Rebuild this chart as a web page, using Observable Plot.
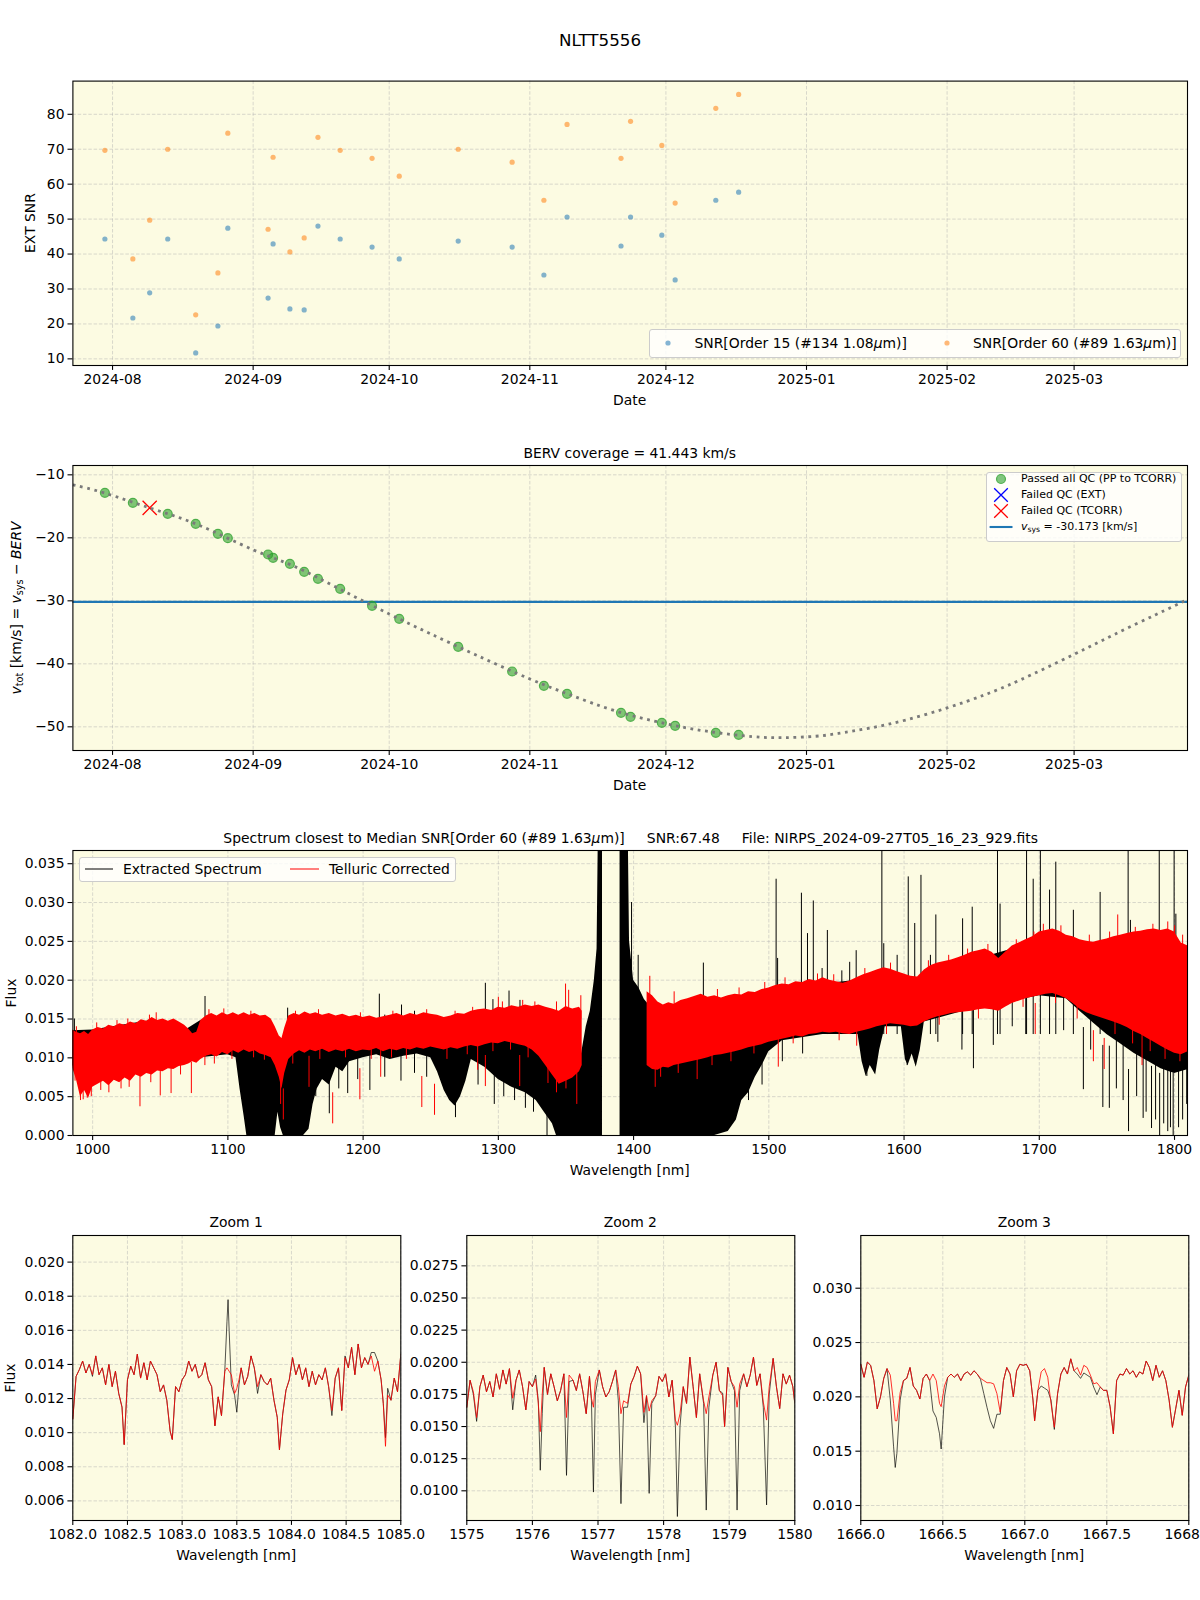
<!DOCTYPE html>
<html><head><meta charset="utf-8">
<script src="https://cdn.jsdelivr.net/npm/d3@7"></script>
<script src="https://cdn.jsdelivr.net/npm/@observablehq/plot@0.6"></script>
<style>
body{margin:0;background:#fff;font-family:"DejaVu Sans",sans-serif;}
#fig{position:relative;width:1200px;height:1600px;overflow:hidden;background:#fff;}
.txt{position:absolute;white-space:pre;color:#000;line-height:1.15;font-family:"DejaVu Sans",sans-serif;}
.leg{position:absolute;background:rgba(255,255,255,0.8);border:1px solid #cccccc;border-radius:3px;box-sizing:border-box;}
sub{font-size:70%;vertical-align:-0.25em;line-height:0;}
</style></head><body><div id="fig"></div><script>
// ---------------- DATA ----------------
const obsDates = ["2024-07-30T07:30Z","2024-08-05T11:30Z","2024-08-09T04:30Z","2024-08-13T04:00Z","2024-08-19T08:00Z","2024-08-24T05:30Z","2024-08-26T10:00Z","2024-09-04T07:00Z","2024-09-05T09:30Z","2024-09-09T02:30Z","2024-09-12T06:00Z","2024-09-15T07:00Z","2024-09-20T04:30Z","2024-09-27T05:16Z","2024-10-03T05:00Z","2024-10-16T05:00Z","2024-10-28T02:30Z","2024-11-04T02:30Z","2024-11-09T05:00Z","2024-11-21T02:30Z","2024-11-23T05:00Z","2024-11-30T02:30Z","2024-12-03T01:00Z","2024-12-12T00:00Z","2024-12-17T01:00Z"];
const snrOrder15 = [44.3,21.7,28.9,44.3,11.7,19.4,47.4,27.4,42.9,24.3,24.0,48.0,44.3,42.0,38.6,43.7,42.0,34.0,50.6,42.3,50.6,45.4,32.6,55.4,57.7];
const snrOrder60 = [69.7,38.6,49.7,70.0,22.6,34.6,74.6,47.1,67.7,40.6,44.6,73.4,69.7,67.4,62.3,70.0,66.3,55.4,77.1,67.4,78.0,71.1,54.6,81.7,85.7];
const vTot = [-12.86,-14.44,-15.24,-16.19,-17.78,-19.37,-20.05,-22.65,-23.17,-24.13,-25.40,-26.51,-28.10,-30.79,-32.86,-37.30,-41.22,-43.49,-44.76,-47.78,-48.41,-49.37,-49.84,-50.95,-51.27];
const qcStatus = ["pass","pass","tcorr","pass","pass","pass","pass","pass","pass","pass","pass","pass","pass","pass","pass","pass","pass","pass","pass","pass","pass","pass","pass","pass","pass"];
const bervCurveDates = ["2024-07-23T06:00Z","2024-07-30T07:30Z","2024-08-10T00:00Z","2024-08-20T00:00Z","2024-09-01T00:00Z","2024-09-10T00:00Z","2024-09-20T00:00Z","2024-10-01T00:00Z","2024-10-10T00:00Z","2024-10-20T00:00Z","2024-11-01T00:00Z","2024-11-10T00:00Z","2024-11-20T00:00Z","2024-12-01T00:00Z","2024-12-10T00:00Z","2024-12-20T00:00Z","2024-12-27T00:00Z","2025-01-03T00:00Z","2025-01-08T00:00Z","2025-01-15T00:00Z","2025-01-23T00:00Z","2025-02-01T00:00Z","2025-02-09T00:00Z","2025-02-17T00:00Z","2025-03-01T00:00Z","2025-03-10T00:00Z","2025-03-19T00:00Z","2025-03-26T00:00Z"];
const bervCurveValues = [-11.6,-12.9,-15.45,-17.98,-21.9,-24.5,-28.1,-32.1,-35.2,-38.55,-42.4,-44.95,-47.5,-49.5,-50.7,-51.55,-51.72,-51.5,-51.05,-50.2,-48.9,-47.0,-45.0,-42.6,-38.5,-35.3,-32.2,-29.8];
const vsys = -30.173;
const monthTicks = ["2024-08-01","2024-09-01","2024-10-01","2024-11-01","2024-12-01","2025-01-01","2025-02-01","2025-03-01"];
const dateDomain = ["2024-07-23T06:15Z","2025-03-26T00:00Z"];
const snrTicks = [10,20,30,40,50,60,70,80];
const bervTicks = [-10,-20,-30,-40,-50];

// Spectrum envelopes [wavelength nm, lower flux, upper flux]
const redBand = [[985,0.0088,0.0136],[988,0.0072,0.0133],[991,0.0050,0.0131],[994,0.0058,0.0134],[997,0.0048,0.0130],[1000,0.0062,0.0136],[1004,0.0066,0.0139],[1008,0.0070,0.0137],[1012,0.0064,0.0142],[1016,0.0071,0.0140],[1020,0.0068,0.0144],[1024,0.0074,0.0142],[1028,0.0070,0.0146],[1032,0.0078,0.0144],[1036,0.0075,0.0149],[1040,0.0080,0.0147],[1044,0.0078,0.0152],[1048,0.0083,0.0148],[1052,0.0082,0.0150],[1056,0.0086,0.0147],[1060,0.0085,0.0150],[1064,0.0089,0.0146],[1068,0.0090,0.0142],[1071,0.0092,0.0137],[1074,0.0095,0.0131],[1077,0.0093,0.0133],[1080,0.0098,0.0148],[1084,0.0102,0.0154],[1088,0.0104,0.0157],[1092,0.0101,0.0154],[1096,0.0107,0.0158],[1100,0.0104,0.0155],[1104,0.0109,0.0158],[1108,0.0106,0.0155],[1112,0.0110,0.0158],[1116,0.0107,0.0155],[1120,0.0109,0.0157],[1124,0.0105,0.0154],[1128,0.0103,0.0155],[1132,0.0100,0.0150],[1135,0.0090,0.0140],[1138,0.0075,0.0128],[1140,0.0060,0.0125],[1142,0.0080,0.0138],[1145,0.0098,0.0154],[1149,0.0105,0.0157],[1153,0.0109,0.0155],[1157,0.0106,0.0159],[1161,0.0110,0.0156],[1165,0.0108,0.0158],[1170,0.0111,0.0155],[1175,0.0107,0.0157],[1180,0.0110,0.0154],[1185,0.0108,0.0156],[1190,0.0111,0.0153],[1195,0.0108,0.0155],[1200,0.0110,0.0152],[1205,0.0109,0.0154],[1210,0.0112,0.0151],[1215,0.0108,0.0153],[1220,0.0111,0.0155],[1225,0.0109,0.0157],[1230,0.0112,0.0154],[1235,0.0110,0.0157],[1240,0.0113,0.0155],[1245,0.0111,0.0158],[1250,0.0114,0.0156],[1255,0.0112,0.0155],[1260,0.0110,0.0152],[1265,0.0113,0.0154],[1270,0.0111,0.0157],[1275,0.0114,0.0156],[1280,0.0116,0.0160],[1285,0.0114,0.0162],[1290,0.0117,0.0163],[1295,0.0119,0.0161],[1300,0.0118,0.0165],[1305,0.0121,0.0164],[1310,0.0119,0.0167],[1315,0.0117,0.0165],[1320,0.0115,0.0168],[1325,0.0110,0.0166],[1330,0.0102,0.0168],[1335,0.0090,0.0165],[1340,0.0078,0.0163],[1345,0.0066,0.0160],[1350,0.0070,0.0166],[1355,0.0074,0.0163],[1360,0.0082,0.0165],[1362,0.0090,0.0160],[1385,NaN,NaN],[1410,0.0090,0.0185],[1414,0.0085,0.0180],[1418,0.0084,0.0172],[1422,0.0088,0.0168],[1426,0.0087,0.0171],[1430,0.0090,0.0169],[1435,0.0092,0.0174],[1440,0.0094,0.0176],[1445,0.0096,0.0179],[1450,0.0098,0.0182],[1455,0.0100,0.0178],[1460,0.0103,0.0180],[1465,0.0104,0.0177],[1470,0.0106,0.0180],[1475,0.0108,0.0182],[1480,0.0110,0.0181],[1485,0.0113,0.0185],[1490,0.0115,0.0184],[1495,0.0117,0.0188],[1500,0.0120,0.0190],[1505,0.0122,0.0193],[1510,0.0124,0.0195],[1515,0.0126,0.0194],[1520,0.0128,0.0198],[1525,0.0127,0.0197],[1530,0.0130,0.0201],[1535,0.0131,0.0199],[1540,0.0133,0.0203],[1545,0.0132,0.0200],[1550,0.0133,0.0198],[1555,0.0131,0.0196],[1560,0.0130,0.0199],[1565,0.0133,0.0203],[1570,0.0135,0.0207],[1575,0.0137,0.0210],[1580,0.0140,0.0213],[1585,0.0142,0.0216],[1590,0.0144,0.0214],[1595,0.0143,0.0211],[1600,0.0142,0.0208],[1605,0.0140,0.0205],[1610,0.0141,0.0204],[1615,0.0146,0.0213],[1620,0.0150,0.0219],[1625,0.0153,0.0222],[1630,0.0155,0.0224],[1635,0.0157,0.0226],[1640,0.0158,0.0229],[1645,0.0159,0.0232],[1650,0.0160,0.0236],[1655,0.0162,0.0238],[1660,0.0163,0.0240],[1665,0.0162,0.0236],[1670,0.0160,0.0228],[1675,0.0165,0.0236],[1680,0.0170,0.0244],[1685,0.0173,0.0248],[1690,0.0176,0.0252],[1695,0.0178,0.0256],[1700,0.0180,0.0262],[1705,0.0182,0.0264],[1710,0.0183,0.0266],[1715,0.0180,0.0263],[1720,0.0176,0.0258],[1725,0.0170,0.0256],[1730,0.0163,0.0252],[1735,0.0158,0.0250],[1740,0.0155,0.0249],[1745,0.0152,0.0251],[1750,0.0149,0.0253],[1755,0.0146,0.0256],[1760,0.0143,0.0258],[1765,0.0139,0.0260],[1770,0.0134,0.0262],[1775,0.0130,0.0263],[1780,0.0125,0.0265],[1785,0.0120,0.0266],[1790,0.0115,0.0264],[1795,0.0110,0.0266],[1800,0.0106,0.0262],[1805,0.0104,0.0248],[1810,0.0108,0.0244]];
const blackBand = [[985,0.0090,0.0135],[1000,0.0075,0.0136],[1040,0.0085,0.0147],[1070,0.0095,0.0137],[1080,0.0100,0.0148],[1100,0.0104,0.0155],[1106,0.0100,0.0155],[1109,0.0060,0.0150],[1112,0.0025,0.0140],[1114,0.0000,0.0125],[1120,0.0000,0.0120],[1125,0.0000,0.0118],[1130,0.0000,0.0120],[1135,0.0000,0.0115],[1137,0.0030,0.0110],[1139,0.0010,0.0112],[1141,0.0000,0.0120],[1150,0.0000,0.0122],[1156,0.0000,0.0120],[1160,0.0008,0.0125],[1163,0.0040,0.0130],[1166,0.0060,0.0135],[1170,0.0072,0.0140],[1175,0.0065,0.0145],[1180,0.0088,0.0150],[1185,0.0082,0.0150],[1190,0.0095,0.0150],[1200,0.0100,0.0150],[1210,0.0104,0.0150],[1220,0.0098,0.0150],[1230,0.0102,0.0150],[1240,0.0105,0.0150],[1250,0.0100,0.0150],[1255,0.0082,0.0150],[1260,0.0058,0.0150],[1264,0.0045,0.0150],[1268,0.0038,0.0150],[1272,0.0050,0.0150],[1276,0.0070,0.0150],[1280,0.0098,0.0155],[1290,0.0088,0.0160],[1300,0.0072,0.0160],[1310,0.0062,0.0162],[1320,0.0055,0.0162],[1328,0.0045,0.0160],[1334,0.0030,0.0158],[1340,0.0015,0.0150],[1343,0.0000,0.0140],[1350,0.0000,0.0100],[1355,0.0000,0.0085],[1360,0.0000,0.0090],[1365,0.0000,0.0140],[1368,0.0000,0.0160],[1371,0.0000,0.0200],[1373,0.0000,0.0240],[1374,0.0000,0.0400],[1377,0.0000,0.0400],[1383,NaN,NaN],[1390,0.0000,0.0400],[1396,0.0000,0.0400],[1397,0.0000,0.0250],[1400,0.0000,0.0200],[1404,0.0000,0.0190],[1408,0.0000,0.0175],[1420,0.0000,0.0150],[1440,0.0000,0.0150],[1460,0.0000,0.0160],[1470,0.0005,0.0165],[1476,0.0020,0.0170],[1480,0.0045,0.0170],[1485,0.0055,0.0175],[1490,0.0075,0.0180],[1495,0.0090,0.0185],[1500,0.0108,0.0185],[1510,0.0122,0.0190],[1540,0.0130,0.0195],[1566,0.0130,0.0200],[1569,0.0095,0.0200],[1572,0.0076,0.0200],[1575,0.0090,0.0200],[1579,0.0078,0.0200],[1582,0.0110,0.0205],[1586,0.0140,0.0210],[1598,0.0140,0.0205],[1601,0.0098,0.0200],[1603,0.0090,0.0200],[1606,0.0105,0.0200],[1609,0.0088,0.0200],[1612,0.0110,0.0200],[1615,0.0146,0.0205],[1640,0.0158,0.0220],[1700,0.0180,0.0250],[1720,0.0176,0.0250],[1730,0.0160,0.0245],[1740,0.0145,0.0245],[1750,0.0130,0.0250],[1760,0.0118,0.0250],[1770,0.0106,0.0255],[1780,0.0096,0.0255],[1790,0.0086,0.0255],[1800,0.0080,0.0250],[1810,0.0085,0.0240]];
// isolated features [wavelength, flux]
const blackSpikes = [[986.5,0.0150],[1083.1,0.0179],[1144.2,0.0164],[1212,0.0182],[1228.4,0.0168],[1290.4,0.0196],[1296,0.0175],[1307.9,0.0186],[1316,0.0174],[1398.5,0.030],[1403.4,0.0232],[1451.6,0.0222],[1505.4,0.033],[1506.5,0.0228],[1524.1,0.0312],[1528.6,0.026],[1532.9,0.0302],[1539.4,0.0215],[1543.3,0.0264],[1554,0.0212],[1559.8,0.0223],[1564.6,0.0238],[1583.6,0.04],[1585,0.0247],[1594.9,0.0232],[1603.1,0.0333],[1607.9,0.0273],[1612.5,0.0335],[1619.5,0.0232],[1623.5,0.0284],[1643.3,0.0279],[1650.4,0.0294],[1669.1,0.04],[1671,0.0298],[1690.6,0.04],[1695.5,0.033],[1700.8,0.04],[1707.6,0.0316],[1712.2,0.0352],[1725.2,0.029],[1745,0.0313],[1765.7,0.04],[1767.4,0.0277],[1788.7,0.04],[1799.7,0.04],[1801,0.0285]];
const blackDips = [[1165,0.0050],[1175,0.0028],[1182,0.006],[1188.6,0.0054],[1196,0.0072],[1205,0.0058],[1216,0.0075],[1228,0.007],[1238,0.0080],[1247,0.0075],[1268.3,0.0023],[1285,0.0065],[1297,0.004],[1304,0.0050],[1312,0.0045],[1320,0.0035],[1326,0.0030],[1336,0.0],[1485,0.0045],[1495,0.0065],[1510,0.0095],[1525,0.0105],[1572.5,0.0076],[1602.3,0.009],[1625,0.0120],[1642.8,0.011],[1651.3,0.0086],[1666,0.0116],[1680,0.0140],[1690,0.0130],[1718,0.0135],[1732.6,0.0059],[1738,0.0110],[1747,0.0036],[1751.8,0.0035],[1757,0.006],[1762,0.0045],[1766,0.0005],[1772,0.0050],[1776.8,0.0022],[1779,0.0030],[1783,0.0009],[1786,0.0020],[1789,0.0],[1792,0.0015],[1795,0.0005],[1797,0.001],[1799,0.0],[1803,0.001],[1806,0.002],[1809,0.0040]];
const redDips = [[987,0.0070],[991,0.0045],[993,0.0046],[996,0.0048],[999,0.0050],[1006,0.0058],[1012,0.0055],[1021,0.0060],[1027,0.0062],[1035,0.0037],[1043,0.0068],[1050,0.0051],[1058,0.0054],[1065,0.0078],[1073,0.0054],[1083,0.0090],[1090,0.0092],[1103,0.0098],[1119,0.0100],[1127,0.0097],[1139,0.0040],[1141,0.002],[1148,0.0092],[1160,0.0062],[1168,0.0098],[1177.5,0.0015],[1187,0.0100],[1197.6,0.0046],[1206,0.0098],[1213,0.0075],[1221,0.0100],[1232,0.0098],[1243.4,0.0036],[1252.8,0.0026],[1262,0.0098],[1277,0.0104],[1284.7,0.0084],[1290.4,0.0063],[1296,0.0108],[1309,0.0110],[1315.8,0.0063],[1322,0.0100],[1336.7,0.0067],[1343,0.0055],[1350,0.006],[1358,0.004],[1416,0.0062],[1420,0.0075],[1433,0.0080],[1447,0.0072],[1458,0.0090],[1472,0.0095],[1489,0.0105],[1507,0.0088],[1518,0.0118],[1552,0.0122],[1565,0.0115],[1587,0.0130],[1626,0.0142],[1655,0.0150],[1688,0.0165],[1697,0.013],[1712,0.0170],[1728,0.0150],[1740,0.0095],[1748,0.0085],[1756,0.0130],[1769,0.0118],[1776,0.009],[1782,0.0108],[1793,0.0098],[1804,0.0095]];
const redSpikes = [[988,0.0140],[1003,0.0145],[1018,0.0148],[1026,0.0150],[1042,0.0155],[1047,0.0158],[1086,0.0162],[1097,0.0163],[1117,0.0160],[1150,0.0160],[1167,0.0162],[1198,0.0158],[1222,0.0160],[1247,0.0162],[1268,0.0160],[1281,0.0165],[1300,0.0178],[1303,0.0172],[1318,0.0174],[1327,0.0172],[1343,0.0172],[1349.7,0.0195],[1352,0.0187],[1361,0.0180],[1412,0.0205],[1430,0.0185],[1462,0.0188],[1478,0.0190],[1497,0.0197],[1512,0.0203],[1536,0.0208],[1548,0.0207],[1571,0.0215],[1590,0.0222],[1618,0.0225],[1633,0.0232],[1647,0.0240],[1662,0.0246],[1683,0.0252],[1696,0.0262],[1703,0.0272],[1716,0.0270],[1737,0.0258],[1752,0.0262],[1758,0.0284],[1771,0.0268],[1784,0.0272],[1795,0.0275],[1800,0.027],[1806,0.0258]];
const specTicks = [1000,1100,1200,1300,1400,1500,1600,1700,1800];
const fluxTicks = [0,0.005,0.010,0.015,0.020,0.025,0.030,0.035];

// Zoom windows: [wavelength, extracted flux, telluric-corrected flux]
const zoom1 = [[1082.00,0.0108,0.0108],[1082.03,0.0133,0.0133],[1082.06,0.0137,0.0137],[1082.09,0.0142,0.0142],[1082.12,0.0135,0.0135],[1082.15,0.0140,0.0140],[1082.18,0.0133,0.0134],[1082.21,0.0145,0.0145],[1082.24,0.0134,0.0134],[1082.27,0.0138,0.0138],[1082.30,0.0128,0.0128],[1082.33,0.0140,0.0140],[1082.36,0.0127,0.0127],[1082.39,0.0136,0.0136],[1082.42,0.0123,0.0123],[1082.45,0.0115,0.0115],[1082.47,0.0093,0.0093],[1082.50,0.0131,0.0131],[1082.53,0.0139,0.0139],[1082.56,0.0134,0.0134],[1082.59,0.0146,0.0146],[1082.62,0.0132,0.0132],[1082.65,0.0141,0.0141],[1082.68,0.0131,0.0131],[1082.71,0.0142,0.0142],[1082.74,0.0138,0.0138],[1082.77,0.0134,0.0134],[1082.80,0.0124,0.0124],[1082.83,0.0128,0.0128],[1082.86,0.0119,0.0119],[1082.89,0.0101,0.0101],[1082.91,0.0096,0.0096],[1082.94,0.0127,0.0127],[1082.97,0.0124,0.0124],[1083.00,0.0131,0.0131],[1083.03,0.0134,0.0134],[1083.06,0.0142,0.0142],[1083.09,0.0136,0.0136],[1083.12,0.0140,0.0140],[1083.15,0.0132,0.0132],[1083.18,0.0134,0.0134],[1083.21,0.0141,0.0141],[1083.24,0.0131,0.0131],[1083.27,0.0127,0.0127],[1083.30,0.0104,0.0104],[1083.33,0.0121,0.0121],[1083.36,0.0110,0.0110],[1083.39,0.0136,0.0136],[1083.41,0.0165,0.0138],[1083.42,0.0178,0.0137],[1083.43,0.0160,0.0136],[1083.45,0.0128,0.0134],[1083.48,0.0122,0.0123],[1083.50,0.0112,0.0126],[1083.52,0.0128,0.0131],[1083.54,0.0138,0.0138],[1083.57,0.0128,0.0128],[1083.60,0.0133,0.0133],[1083.63,0.0145,0.0145],[1083.66,0.0138,0.0138],[1083.69,0.0123,0.0127],[1083.72,0.0134,0.0134],[1083.75,0.0130,0.0130],[1083.78,0.0128,0.0128],[1083.81,0.0132,0.0132],[1083.84,0.0119,0.0119],[1083.87,0.0109,0.0109],[1083.89,0.0090,0.0090],[1083.92,0.0111,0.0111],[1083.95,0.0125,0.0125],[1083.98,0.0131,0.0131],[1084.01,0.0144,0.0144],[1084.04,0.0134,0.0134],[1084.07,0.0140,0.0140],[1084.10,0.0131,0.0131],[1084.13,0.0138,0.0138],[1084.16,0.0127,0.0127],[1084.19,0.0136,0.0136],[1084.22,0.0128,0.0128],[1084.25,0.0134,0.0134],[1084.28,0.0131,0.0131],[1084.31,0.0138,0.0138],[1084.34,0.0127,0.0127],[1084.37,0.0110,0.0113],[1084.40,0.0132,0.0132],[1084.43,0.0138,0.0138],[1084.46,0.0113,0.0113],[1084.49,0.0145,0.0144],[1084.52,0.0138,0.0138],[1084.55,0.0150,0.0150],[1084.58,0.0134,0.0134],[1084.61,0.0152,0.0152],[1084.64,0.0138,0.0138],[1084.67,0.0144,0.0144],[1084.70,0.0140,0.0140],[1084.73,0.0147,0.0145],[1084.76,0.0147,0.0136],[1084.79,0.0142,0.0142],[1084.82,0.0131,0.0131],[1084.84,0.0117,0.0117],[1084.86,0.0097,0.0092],[1084.88,0.0126,0.0122],[1084.91,0.0119,0.0119],[1084.94,0.0132,0.0132],[1084.97,0.0124,0.0124],[1085.00,0.0146,0.0146]];
const zoom2 = [[1575.00,0.0165,0.0165],[1575.05,0.0186,0.0186],[1575.10,0.0175,0.0177],[1575.15,0.0154,0.0157],[1575.20,0.0181,0.0181],[1575.25,0.0190,0.0190],[1575.30,0.0177,0.0177],[1575.35,0.0185,0.0185],[1575.40,0.0173,0.0173],[1575.45,0.0191,0.0191],[1575.50,0.0179,0.0179],[1575.55,0.0194,0.0194],[1575.60,0.0183,0.0183],[1575.65,0.0195,0.0195],[1575.70,0.0163,0.0172],[1575.75,0.0186,0.0186],[1575.80,0.0194,0.0194],[1575.85,0.0181,0.0181],[1575.90,0.0163,0.0163],[1575.95,0.0185,0.0185],[1576.00,0.0181,0.0181],[1576.05,0.0190,0.0187],[1576.09,0.0170,0.0168],[1576.12,0.0116,0.0146],[1576.15,0.0160,0.0175],[1576.18,0.0196,0.0196],[1576.23,0.0175,0.0175],[1576.28,0.0191,0.0191],[1576.33,0.0181,0.0181],[1576.38,0.0170,0.0170],[1576.43,0.0178,0.0178],[1576.48,0.0191,0.0191],[1576.52,0.0112,0.0157],[1576.56,0.0185,0.0190],[1576.62,0.0186,0.0186],[1576.67,0.0178,0.0178],[1576.72,0.0191,0.0191],[1576.77,0.0177,0.0177],[1576.82,0.0160,0.0160],[1576.87,0.0189,0.0189],[1576.90,0.0170,0.0172],[1576.93,0.0099,0.0165],[1576.96,0.0175,0.0185],[1577.02,0.0194,0.0194],[1577.07,0.0181,0.0181],[1577.12,0.0173,0.0173],[1577.17,0.0177,0.0177],[1577.22,0.0185,0.0185],[1577.27,0.0194,0.0194],[1577.31,0.0170,0.0181],[1577.35,0.0090,0.0160],[1577.39,0.0165,0.0170],[1577.45,0.0165,0.0168],[1577.50,0.0183,0.0183],[1577.55,0.0189,0.0189],[1577.60,0.0197,0.0197],[1577.65,0.0191,0.0191],[1577.70,0.0153,0.0161],[1577.74,0.0174,0.0174],[1577.78,0.0098,0.0162],[1577.82,0.0168,0.0170],[1577.88,0.0174,0.0174],[1577.93,0.0189,0.0189],[1577.98,0.0185,0.0185],[1578.03,0.0191,0.0191],[1578.08,0.0173,0.0173],[1578.13,0.0186,0.0186],[1578.18,0.0150,0.0155],[1578.21,0.0080,0.0151],[1578.25,0.0150,0.0160],[1578.30,0.0181,0.0181],[1578.35,0.0168,0.0168],[1578.40,0.0204,0.0204],[1578.45,0.0181,0.0181],[1578.50,0.0157,0.0157],[1578.55,0.0191,0.0191],[1578.61,0.0168,0.0170],[1578.65,0.0085,0.0160],[1578.69,0.0165,0.0173],[1578.75,0.0190,0.0190],[1578.80,0.0200,0.0200],[1578.85,0.0178,0.0178],[1578.90,0.0176,0.0174],[1578.93,0.0150,0.0150],[1578.98,0.0196,0.0196],[1579.03,0.0185,0.0185],[1579.08,0.0178,0.0181],[1579.12,0.0085,0.0165],[1579.16,0.0178,0.0183],[1579.22,0.0191,0.0191],[1579.27,0.0181,0.0181],[1579.32,0.0190,0.0190],[1579.37,0.0204,0.0204],[1579.42,0.0182,0.0182],[1579.47,0.0191,0.0191],[1579.52,0.0165,0.0169],[1579.57,0.0089,0.0155],[1579.61,0.0175,0.0181],[1579.67,0.0203,0.0203],[1579.72,0.0181,0.0181],[1579.77,0.0164,0.0164],[1579.82,0.0191,0.0191],[1579.87,0.0183,0.0183],[1579.92,0.0190,0.0190],[1579.97,0.0181,0.0181],[1580.00,0.0168,0.0168]];
const zoom3 = [[1666.00,0.0230,0.0230],[1666.02,0.0218,0.0218],[1666.04,0.0232,0.0232],[1666.06,0.0229,0.0229],[1666.08,0.0215,0.0215],[1666.10,0.0189,0.0189],[1666.12,0.0200,0.0200],[1666.14,0.0217,0.0217],[1666.16,0.0226,0.0226],[1666.18,0.0197,0.0220],[1666.20,0.0154,0.0194],[1666.21,0.0135,0.0178],[1666.22,0.0148,0.0178],[1666.24,0.0197,0.0204],[1666.26,0.0215,0.0215],[1666.28,0.0217,0.0217],[1666.30,0.0227,0.0227],[1666.32,0.0210,0.0210],[1666.34,0.0206,0.0206],[1666.36,0.0198,0.0198],[1666.38,0.0217,0.0217],[1666.40,0.0221,0.0221],[1666.42,0.0215,0.0215],[1666.44,0.0187,0.0221],[1666.46,0.0181,0.0215],[1666.48,0.0166,0.0194],[1666.49,0.0152,0.0191],[1666.51,0.0200,0.0210],[1666.53,0.0218,0.0218],[1666.55,0.0221,0.0221],[1666.57,0.0218,0.0218],[1666.59,0.0221,0.0221],[1666.61,0.0215,0.0215],[1666.63,0.0221,0.0221],[1666.65,0.0223,0.0223],[1666.67,0.0220,0.0220],[1666.69,0.0224,0.0224],[1666.71,0.0221,0.0221],[1666.73,0.0216,0.0217],[1666.75,0.0203,0.0215],[1666.77,0.0190,0.0213],[1666.79,0.0178,0.0213],[1666.81,0.0171,0.0212],[1666.83,0.0184,0.0203],[1666.85,0.0184,0.0186],[1666.87,0.0215,0.0215],[1666.89,0.0227,0.0227],[1666.91,0.0221,0.0221],[1666.93,0.0200,0.0200],[1666.95,0.0224,0.0224],[1666.97,0.0230,0.0230],[1666.99,0.0229,0.0229],[1667.01,0.0230,0.0230],[1667.03,0.0224,0.0224],[1667.05,0.0197,0.0197],[1667.06,0.0178,0.0178],[1667.08,0.0206,0.0206],[1667.10,0.0210,0.0223],[1667.12,0.0208,0.0226],[1667.14,0.0206,0.0218],[1667.16,0.0197,0.0194],[1667.18,0.0170,0.0172],[1667.20,0.0203,0.0203],[1667.22,0.0221,0.0221],[1667.24,0.0227,0.0227],[1667.26,0.0221,0.0221],[1667.28,0.0235,0.0235],[1667.30,0.0224,0.0224],[1667.32,0.0221,0.0227],[1667.34,0.0217,0.0220],[1667.36,0.0222,0.0229],[1667.38,0.0220,0.0227],[1667.40,0.0218,0.0220],[1667.42,0.0209,0.0212],[1667.44,0.0202,0.0213],[1667.46,0.0209,0.0209],[1667.48,0.0206,0.0206],[1667.50,0.0206,0.0206],[1667.52,0.0191,0.0191],[1667.54,0.0166,0.0166],[1667.56,0.0215,0.0215],[1667.58,0.0221,0.0221],[1667.60,0.0220,0.0220],[1667.62,0.0226,0.0226],[1667.64,0.0221,0.0221],[1667.66,0.0224,0.0224],[1667.68,0.0218,0.0218],[1667.70,0.0223,0.0223],[1667.72,0.0221,0.0221],[1667.74,0.0233,0.0233],[1667.76,0.0227,0.0227],[1667.78,0.0215,0.0215],[1667.80,0.0229,0.0229],[1667.82,0.0218,0.0218],[1667.84,0.0224,0.0224],[1667.86,0.0215,0.0215],[1667.88,0.0197,0.0197],[1667.90,0.0172,0.0172],[1667.92,0.0189,0.0189],[1667.94,0.0206,0.0206],[1667.96,0.0183,0.0183],[1667.98,0.0209,0.0209],[1668.00,0.0220,0.0220]];
const zoom1Ticks = [1082,1082.5,1083,1083.5,1084,1084.5,1085];
const zoom1YTicks = [0.006,0.008,0.010,0.012,0.014,0.016,0.018,0.020];
const zoom2Ticks = [1575,1576,1577,1578,1579,1580];
const zoom2YTicks = [0.0100,0.0125,0.0150,0.0175,0.0200,0.0225,0.0250,0.0275];
const zoom3Ticks = [1666,1666.5,1667,1667.5,1668];
const zoom3YTicks = [0.010,0.015,0.020,0.025,0.030];

// ---------------- RENDER ----------------
const fig = document.getElementById("fig");
const BG = "#fcfbe2";
const FS = 13.9;
const toDate = s => new Date(s.length === 10 ? s + "T00:00:00Z" : s);
const obs = obsDates.map((d, i) => ({date: toDate(d), s15: snrOrder15[i], s60: snrOrder60[i], v: vTot[i], qc: qcStatus[i]}));
const curve = bervCurveDates.map((d, i) => ({date: toDate(d), v: bervCurveValues[i]}));
const mTicks = monthTicks.map(toDate);
const dDomain = dateDomain.map(toDate);
const gridStyle = {stroke: "#b0b0b0", strokeOpacity: 0.6, strokeWidth: 0.8, strokeDasharray: "3.5,1.8"};

function place(el, left, top) {
  const d = document.createElement("div");
  d.style.position = "absolute"; d.style.left = left + "px"; d.style.top = top + "px";
  el.style.overflow = "visible";
  d.appendChild(el); fig.appendChild(d);
}
function addText(html, x, y, {size = FS, rot = 0, align = "center"} = {}) {
  const d = document.createElement("div");
  d.className = "txt"; d.innerHTML = html;
  d.style.fontSize = size + "px"; d.style.left = x + "px"; d.style.top = y + "px";
  const tx = align === "center" ? "-50%" : align === "left" ? "0" : "-100%";
  d.style.transform = `translate(${tx},-50%)` + (rot ? ` rotate(${rot}deg)` : "");
  fig.appendChild(d); return d;
}
function axisMarks(xTicks, yTicks) {
  return [
    Plot.gridX({ticks: xTicks, ...gridStyle}),
    Plot.gridY({ticks: yTicks, ...gridStyle}),
  ];
}
function axisLabels(xTicks, xFmt, yTicks, yFmt) {
  return [
    Plot.axisX({ticks: xTicks, tickFormat: xFmt, tickSize: 4.9, tickPadding: 3.5, fontSize: FS, label: null, strokeWidth: 1.1}),
    Plot.axisY({ticks: yTicks, tickFormat: yFmt, tickSize: 4.9, tickPadding: 3.5, fontSize: FS, label: null, strokeWidth: 1.1}),
    Plot.frame({stroke: "black", strokeWidth: 1.1, fill: "none"})
  ];
}
const baseStyle = {fontFamily: '"DejaVu Sans", sans-serif', fontSize: FS + "px", background: "transparent", color: "black", overflow: "visible"};

// Title
addText("NLTT5556", 600, 41, {size: 16.7});

// Panel 1: SNR
const monthFmt = d3.utcFormat("%Y-%m");
const p1 = Plot.plot({
  width: 1200, height: 360, marginLeft: 72.4, marginRight: 13, marginTop: 20.6, marginBottom: 55,
  style: baseStyle,
  x: {type: "utc", domain: dDomain},
  y: {domain: [8.1, 89.5]},
  marks: [
    Plot.frame({fill: BG, stroke: "none"}),
    ...axisMarks(mTicks, snrTicks),
    Plot.dot(obs, {x: "date", y: "s15", r: 2.6, fill: "#1f77b4", fillOpacity: 0.55, stroke: "none"}),
    Plot.dot(obs, {x: "date", y: "s60", r: 2.6, fill: "#ff7f0e", fillOpacity: 0.55, stroke: "none"}),
    ...axisLabels(mTicks, monthFmt, snrTicks, d3.format("d"))
  ]
});
place(p1, 0, 60);
addText("Date", 629.7, 400);
addText("EXT SNR", 30, 223, {rot: -90});
{
  const lg = document.createElement("div"); lg.className = "leg";
  Object.assign(lg.style, {left: "648.6px", top: "329.3px", width: "532.4px", height: "28.6px"});
  fig.appendChild(lg);
  const sw = (cx, color) => {
    const s = document.createElementNS("http://www.w3.org/2000/svg", "svg");
    s.setAttribute("width", 10); s.setAttribute("height", 10);
    s.style.position = "absolute"; s.style.left = (cx - 5) + "px"; s.style.top = "338.3px";
    s.innerHTML = `<circle cx="5" cy="5" r="2.6" fill="${color}" fill-opacity="0.55"/>`;
    fig.appendChild(s);
  };
  sw(668, "#1f77b4"); sw(947, "#ff7f0e");
  addText("SNR[Order 15 (#134 1.08<i>μ</i>m)]", 694.5, 343.3, {align: "left"});
  addText("SNR[Order 60 (#89 1.63<i>μ</i>m)]", 973, 343.3, {align: "left"});
}

// Panel 2: BERV
const p2 = Plot.plot({
  width: 1200, height: 360, marginLeft: 72.4, marginRight: 13, marginTop: 25, marginBottom: 50,
  style: baseStyle,
  x: {type: "utc", domain: dDomain},
  y: {domain: [-53.76, -8.52]},
  marks: [
    Plot.frame({fill: BG, stroke: "none"}),
    ...axisMarks(mTicks, bervTicks),
    Plot.ruleY([vsys], {stroke: "#1f77b4", strokeWidth: 2.1}),
    Plot.dot(obs.filter(d => d.qc === "pass"), {x: "date", y: "v", r: 4.5, fill: "#2ca02c", fillOpacity: 0.6, stroke: "#2ca02c", strokeOpacity: 0.75, strokeWidth: 1.2}),
    Plot.dot(obs.filter(d => d.qc === "ext"), {x: "date", y: "v", r: 6.5, symbol: "times", stroke: "blue", strokeWidth: 1.3}),
    Plot.dot(obs.filter(d => d.qc === "tcorr"), {x: "date", y: "v", r: 6.5, symbol: "times", stroke: "red", strokeWidth: 1.3}),
    Plot.line(curve, {x: "date", y: "v", curve: "natural", stroke: "#7a7a7a", strokeWidth: 2.8, strokeDasharray: "2.8,4.6", strokeLinecap: "butt", clip: true}),
    ...axisLabels(mTicks, monthFmt, bervTicks, d3.format("d"))
  ]
});
place(p2, 0, 440);
addText("BERV coverage = 41.443 km/s", 629.7, 452.5);
addText("Date", 629.7, 785);
addText("<i>v</i><sub>tot</sub> [km/s] = <i>v</i><sub>sys</sub> − <i>BERV</i>", 16, 607.5, {rot: -90});
{
  const lg = document.createElement("div"); lg.className = "leg";
  Object.assign(lg.style, {left: "985.8px", top: "471.7px", width: "196.7px", height: "70px"});
  fig.appendChild(lg);
  const mk = (cy, inner) => {
    const s = document.createElementNS("http://www.w3.org/2000/svg", "svg");
    s.setAttribute("width", 30); s.setAttribute("height", 18);
    s.style.position = "absolute"; s.style.left = "986px"; s.style.top = (cy - 9) + "px";
    s.innerHTML = inner; fig.appendChild(s);
  };
  mk(479.3, `<circle cx="15" cy="9" r="4.5" fill="#2ca02c" fill-opacity="0.6" stroke="#2ca02c" stroke-opacity="0.75" stroke-width="1.2"/>`);
  mk(495, `<path d="M8.2,2.2L21.8,15.8M8.2,15.8L21.8,2.2" stroke="blue" stroke-width="1.3"/>`);
  mk(511, `<path d="M8.2,2.2L21.8,15.8M8.2,15.8L21.8,2.2" stroke="red" stroke-width="1.3"/>`);
  mk(527.3, `<line x1="3.6" x2="26.5" y1="9" y2="9" stroke="#1f77b4" stroke-width="2.1"/>`);
  addText("Passed all QC (PP to TCORR)", 1021, 479.3, {size: 11, align: "left"});
  addText("Failed QC (EXT)", 1021, 495, {size: 11, align: "left"});
  addText("Failed QC (TCORR)", 1021, 511, {size: 11, align: "left"});
  addText("<i>v</i><sub>sys</sub> = -30.173 [km/s]", 1021, 527.3, {size: 11, align: "left"});
}

// Panel 3: spectrum
const fx = d => d[0];
const p3 = Plot.plot({
  width: 1200, height: 350, marginLeft: 72.4, marginRight: 13, marginTop: 20, marginBottom: 45,
  style: baseStyle,
  x: {domain: [985.4, 1809.6]},
  y: {domain: [0, 0.0367]},
  marks: [
    Plot.frame({fill: BG, stroke: "none"}),
    ...axisMarks(specTicks, fluxTicks),
    Plot.areaY(blackBand, {x: fx, y1: d => d[1], y2: d => d[2], fill: "black", clip: true}),
    Plot.ruleX(blackSpikes, {x: fx, y1: d => Math.min(d[1], 0.013), y2: d => d[1], stroke: "black", strokeWidth: 1, clip: true}),
    Plot.ruleX(blackDips, {x: fx, y1: d => d[1], y2: d => d[1] + 0.008, stroke: "black", strokeWidth: 1, clip: true}),
    Plot.areaY(redBand, {x: fx, y1: d => d[1], y2: d => d[2], fill: "#ff0000", clip: true}),
    Plot.ruleX(redDips, {x: fx, y1: d => d[1], y2: d => d[1] + 0.004, stroke: "#ff0000", strokeWidth: 1, clip: true}),
    Plot.ruleX(redSpikes, {x: fx, y1: d => d[1] - 0.003, y2: d => d[1], stroke: "#ff0000", strokeWidth: 1, clip: true}),
    ...axisLabels(specTicks, d3.format("d"), fluxTicks, d3.format(".3f"))
  ]
});
place(p3, 0, 830);
addText("Spectrum closest to Median SNR[Order 60 (#89 1.63<i>μ</i>m)]     SNR:67.48     File: NIRPS_2024-09-27T05_16_23_929.fits", 630.6, 837.5);
addText("Wavelength [nm]", 629.7, 1170);
addText("Flux", 10.5, 992.5, {rot: -90});
{
  const lg = document.createElement("div"); lg.className = "leg";
  Object.assign(lg.style, {left: "79px", top: "857px", width: "377px", height: "25px"});
  fig.appendChild(lg);
  const s = document.createElementNS("http://www.w3.org/2000/svg", "svg");
  s.setAttribute("width", 300); s.setAttribute("height", 10);
  s.style.position = "absolute"; s.style.left = "80px"; s.style.top = "863.5px";
  s.innerHTML = `<line x1="5" x2="33" y1="5" y2="5" stroke="black" stroke-width="1"/><line x1="210" x2="239" y1="5" y2="5" stroke="red" stroke-width="1"/>`;
  fig.appendChild(s);
  addText("Extracted Spectrum", 123, 868.5, {align: "left"});
  addText("Telluric Corrected", 329, 868.5, {align: "left"});
}

// Zoom panels
function zoomPanel(rows, left, width, mLeft, mRight, xDom, yDom, xT, xF, yT, yF) {
  const p = Plot.plot({
    width, height: 380, marginLeft: mLeft, marginRight: mRight, marginTop: 35, marginBottom: 60,
    style: baseStyle,
    x: {domain: xDom}, y: {domain: yDom},
    marks: [
      Plot.frame({fill: BG, stroke: "none"}),
      ...axisMarks(xT, yT),
      Plot.line(rows, {x: fx, y: d => d[1], stroke: "black", strokeWidth: 0.8, strokeOpacity: 0.85, clip: true}),
      Plot.line(rows, {x: fx, y: d => d[2], stroke: "#ff0000", strokeWidth: 0.9, strokeOpacity: 0.9, clip: true}),
      ...axisLabels(xT, xF, yT, yF)
    ]
  });
  place(p, left, 1200);
}
zoomPanel(zoom1, 0, 420, 72.3, 19.7, [1082, 1085], [0.00485, 0.02156], zoom1Ticks, d3.format(".1f"), zoom1YTicks, d3.format(".3f"));
zoomPanel(zoom2, 400, 420, 66.3, 25.7, [1575, 1580], [0.00769, 0.02986], zoom2Ticks, d3.format("d"), zoom2YTicks, d3.format(".4f"));
zoomPanel(zoom3, 790, 410, 70.3, 11.7, [1666, 1668], [0.00862, 0.03485], zoom3Ticks, d3.format(".1f"), zoom3YTicks, d3.format(".3f"));
addText("Zoom 1", 236.2, 1222);
addText("Zoom 2", 630.3, 1222);
addText("Zoom 3", 1024.3, 1222);
addText("Wavelength [nm]", 236.2, 1555);
addText("Wavelength [nm]", 630.3, 1555);
addText("Wavelength [nm]", 1024.3, 1555);
addText("Flux", 9.5, 1377.5, {rot: -90});
</script></body></html>
